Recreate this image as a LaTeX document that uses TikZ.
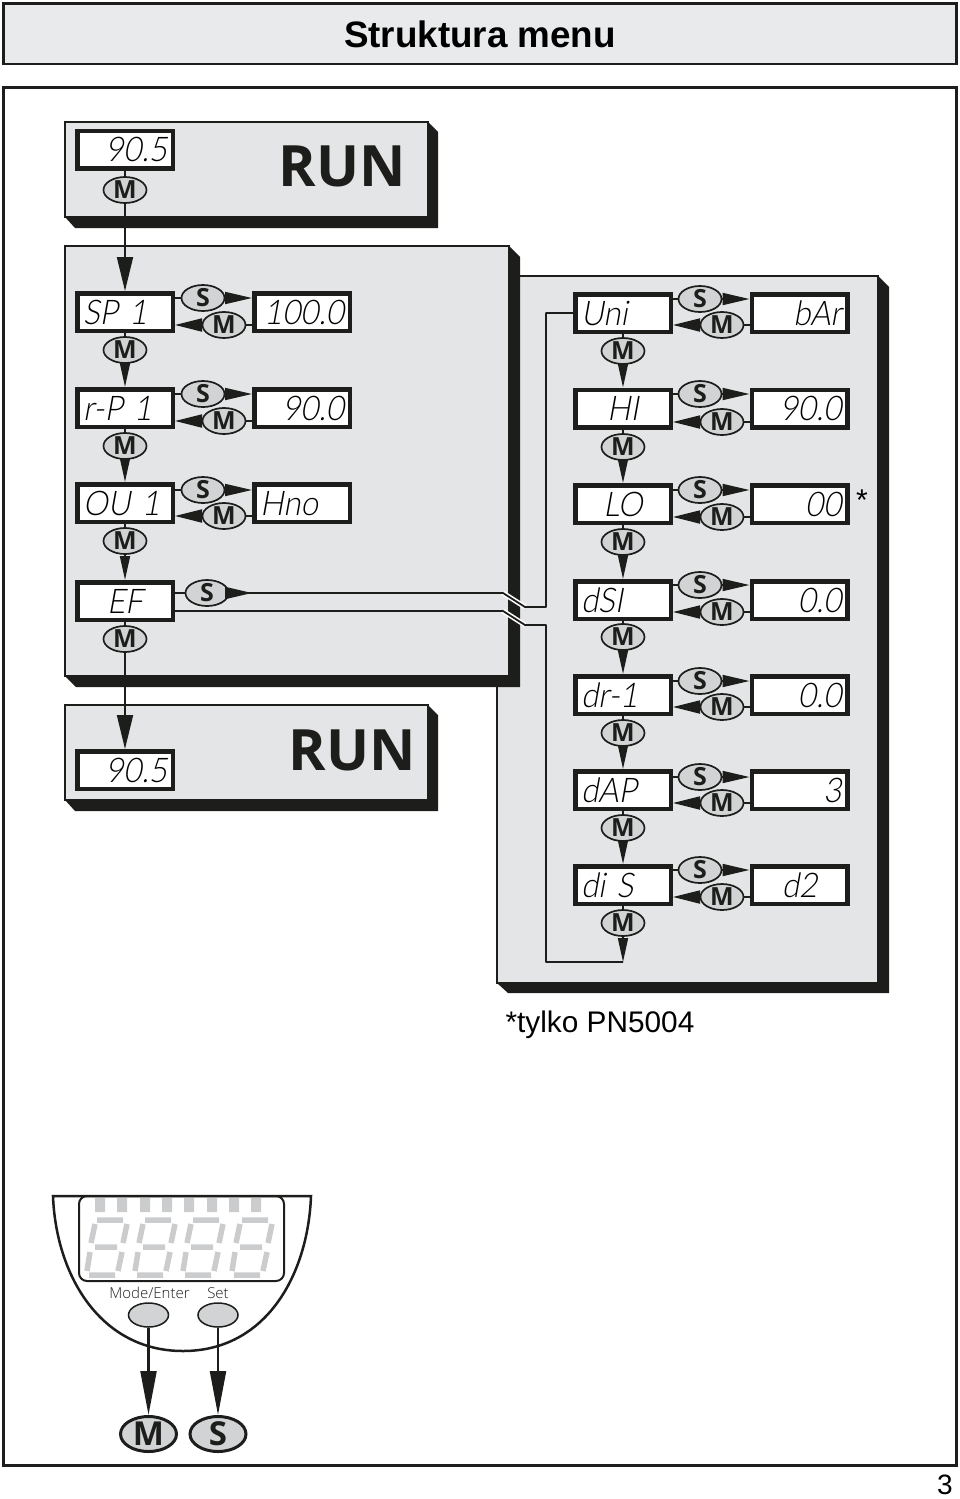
\documentclass[tikz,border=0pt]{standalone}
\usepackage{fontspec}
\usetikzlibrary{arrows.meta,shapes.geometric}
\setmainfont{Liberation Sans}
\newfontfamily\btnfont{Open Sans}
\newfontfamily\keyfont{Open Sans Light}
\newfontfamily\lcdfont[FakeSlant=0.18,FakeStretch=0.92]{Lato Light}
\definecolor{panelgray}{HTML}{E3E5E6}
\definecolor{btngray}{HTML}{D2D3D5}
\definecolor{seggray}{HTML}{CBCCCE}
\definecolor{inkblack}{HTML}{1D1D1B}
\tikzset{
  panel/.style={draw=inkblack,fill=panelgray,line width=1.5pt},
  shade/.style={fill=inkblack,draw=none},
  lcdbox/.style={draw=inkblack,fill=white,line width=4.5pt,outer sep=2.25pt,minimum width=95.5pt,minimum height=37.5pt,inner sep=0pt,
    text width=84pt,text height=24pt,text depth=0pt,font=\lcdfont\fontsize{34}{34}\selectfont,text=black},
  lcdl/.style={lcdbox,align=left},
  lcdr/.style={lcdbox,align=right},
  lcdc/.style={lcdbox,align=center},
  btn/.style={ellipse,draw=inkblack,fill=btngray,line width=1.7pt,minimum width=43pt,minimum height=26pt,inner sep=0pt,
    font=\btnfont\bfseries\fontsize{25}{25}\selectfont,text=inkblack},
  bigbtn/.style={btn,line width=3pt,minimum width=56pt,minimum height=35pt,font=\btnfont\bfseries\fontsize{33}{33}\selectfont},
  wire/.style={draw=inkblack,line width=1.8pt},
  downtip/.style={wire,-{Triangle[length=24pt,width=10pt]}},
  fartip/.style={wire,line width=2pt,-{Triangle[length=34pt,width=16pt]}},
  stip/.style={wire,-{Triangle[length=27pt,width=12pt]}},
  mtip/.style={wire,-{Triangle[length=27pt,width=13pt]}},
  seg/.style={draw=seggray,line width=5.5pt},
}
\begin{document}
\begin{tikzpicture}[x=1pt,y=-1pt]
\useasboundingbox (0,0) rectangle (960,1499);
% title and frame
\draw[draw=inkblack,line width=2.5pt,fill=panelgray!80!white] (3.5,3.5) rectangle (956.5,64);
\node (title) at (480,34) {\bfseries\fontsize{36.8}{37}\selectfont Struktura menu};
\draw[draw=inkblack,line width=3pt] (3.5,87.5) rectangle (956.5,1465);
\node[inner sep=1pt] (pagenum) at (945,1485) {\fontsize{28}{28}\selectfont 3};
% right panel
\fill[shade] (878,276)--(889,287)--(889,993)--(508,993)--(497,983)--cycle;
\draw[panel] (497,276) rectangle (878,983);
% top run panel
\fill[shade] (428,122)--(438,132)--(438,228)--(75,228)--(65,217)--cycle;
\draw[panel] (65,122) rectangle (428,217);
\node[font=\btnfont\bfseries\fontsize{57}{57}\selectfont,text=inkblack] (runa) at (342,166) {RUN};
% left panel
\fill[shade] (509,246)--(520,257)--(520,687)--(76,687)--(65,676)--cycle;
\draw[panel] (65,246) rectangle (509,676);
% bottom run panel
\fill[shade] (428,705)--(438,715)--(438,811)--(75,811)--(65,800)--cycle;
\draw[panel] (65,705) rectangle (428,800);
\node[font=\btnfont\bfseries\fontsize{57}{57}\selectfont,text=inkblack] (runb) at (352,750) {RUN};
% left column
\node[lcdr] (top) at (125,149.5) {90.5};
\node[btn] (topm) at (125,190) {M};
\node[lcdl] (sp) at (125,312) {SP 1};
\node[lcdr] (spv) at (302,312) {100.0};
\node[btn] (sps) at (203,298) {S};
\node[btn] (spm) at (224,325) {M};
\node[btn] (spd) at (125,350) {M};
\node[lcdl] (rp) at (125,408) {r-P 1};
\node[lcdr] (rpv) at (302,408) {90.0};
\node[btn] (rps) at (203,394) {S};
\node[btn] (rpm) at (224,421) {M};
\node[btn] (rpd) at (125,446) {M};
\node[lcdl] (ou) at (125,503) {OU 1};
\node[lcdl] (ouv) at (302,503) {Hno};
\node[btn] (ous) at (203,490) {S};
\node[btn] (oum) at (224,516) {M};
\node[btn] (oud) at (125,541) {M};
\node[lcdc] (ef) at (125,601) {EF};
\node[btn] (efs) at (207,593) {S};
\node[btn] (efd) at (125,639) {M};
\node[lcdr] (bot) at (125,770) {90.5};
% right column
\node[lcdl] (un) at (623,313) {Uni};
\node[lcdr] (unv) at (799.5,313) {bAr};
\node[btn] (uns) at (700,299) {S};
\node[btn] (unm) at (722,325) {M};
\node[btn] (und) at (623,351) {M};
\node[lcdc] (hi) at (623,408.5) {HI};
\node[lcdr] (hiv) at (799.5,408.5) {90.0};
\node[btn] (his) at (700,394) {S};
\node[btn] (him) at (722,422) {M};
\node[btn] (hid) at (623,447) {M};
\node[lcdc] (lo) at (623,504) {LO};
\node[lcdr] (lov) at (799.5,504) {00};
\node[btn] (los) at (700,490) {S};
\node[btn] (lom) at (722,517) {M};
\node[btn] (lod) at (623,542) {M};
\node[lcdl] (ds) at (623,600) {dSI};
\node[lcdr] (dsv) at (799.5,600) {0.0};
\node[btn] (dss) at (700,585) {S};
\node[btn] (dsm) at (722,612) {M};
\node[btn] (dsd) at (623,637) {M};
\node[lcdl] (dr) at (623,695) {dr-1};
\node[lcdr] (drv) at (799.5,695) {0.0};
\node[btn] (drs) at (700,681) {S};
\node[btn] (drm) at (722,707) {M};
\node[btn] (drd) at (623,733) {M};
\node[lcdl] (da) at (623,790) {dAP};
\node[lcdr] (dav) at (799.5,790) {3};
\node[btn] (das) at (700,777) {S};
\node[btn] (dam) at (722,803) {M};
\node[btn] (dad) at (623,828) {M};
\node[lcdl] (di) at (623,885) {di S};
\node[lcdc] (div) at (799.5,885) {d2};
\node[btn] (dis) at (700,870) {S};
\node[btn] (dim) at (722,897) {M};
\node[btn] (did) at (623,923) {M};
\node (star) at (862,500) {\fontsize{30}{30}\selectfont *};
\node (note) at (600,1025) {\fontsize{29.8}{30}\selectfont *tylko PN5004};
% vertical links
\draw[wire] (top)--(topm);
\draw[fartip] (topm)--(sp);
\draw[wire] (sp)--(spd);
\draw[downtip] (spd)--(rp);
\draw[wire] (rp)--(rpd);
\draw[downtip] (rpd)--(ou);
\draw[wire] (ou)--(oud);
\draw[downtip] (oud)--(ef);
\draw[wire] (ef)--(efd);
\draw[fartip] (efd)--(bot);
\draw[wire] (un)--(und);
\draw[downtip] (und)--(hi);
\draw[wire] (hi)--(hid);
\draw[downtip] (hid)--(lo);
\draw[wire] (lo)--(lod);
\draw[downtip] (lod)--(ds);
\draw[wire] (ds)--(dsd);
\draw[downtip] (dsd)--(dr);
\draw[wire] (dr)--(drd);
\draw[downtip] (drd)--(da);
\draw[wire] (da)--(dad);
\draw[downtip] (dad)--(di);
\draw[wire] (di)--(did);
% side links
\draw[wire] (sps -| sp.east)--(sps);
\draw[stip] (sps)--(sps -| spv.west);
\draw[wire] (spm -| spv.west)--(spm);
\draw[mtip] (spm)--(spm -| sp.east);
\draw[wire] (rps -| rp.east)--(rps);
\draw[stip] (rps)--(rps -| rpv.west);
\draw[wire] (rpm -| rpv.west)--(rpm);
\draw[mtip] (rpm)--(rpm -| rp.east);
\draw[wire] (ous -| ou.east)--(ous);
\draw[stip] (ous)--(ous -| ouv.west);
\draw[wire] (oum -| ouv.west)--(oum);
\draw[mtip] (oum)--(oum -| ou.east);
\draw[wire] (uns -| un.east)--(uns);
\draw[stip] (uns)--(uns -| unv.west);
\draw[wire] (unm -| unv.west)--(unm);
\draw[mtip] (unm)--(unm -| un.east);
\draw[wire] (his -| hi.east)--(his);
\draw[stip] (his)--(his -| hiv.west);
\draw[wire] (him -| hiv.west)--(him);
\draw[mtip] (him)--(him -| hi.east);
\draw[wire] (los -| lo.east)--(los);
\draw[stip] (los)--(los -| lov.west);
\draw[wire] (lom -| lov.west)--(lom);
\draw[mtip] (lom)--(lom -| lo.east);
\draw[wire] (dss -| ds.east)--(dss);
\draw[stip] (dss)--(dss -| dsv.west);
\draw[wire] (dsm -| dsv.west)--(dsm);
\draw[mtip] (dsm)--(dsm -| ds.east);
\draw[wire] (drs -| dr.east)--(drs);
\draw[stip] (drs)--(drs -| drv.west);
\draw[wire] (drm -| drv.west)--(drm);
\draw[mtip] (drm)--(drm -| dr.east);
\draw[wire] (das -| da.east)--(das);
\draw[stip] (das)--(das -| dav.west);
\draw[wire] (dam -| dav.west)--(dam);
\draw[mtip] (dam)--(dam -| da.east);
\draw[wire] (dis -| di.east)--(dis);
\draw[stip] (dis)--(dis -| div.west);
\draw[wire] (dim -| div.west)--(dim);
\draw[mtip] (dim)--(dim -| di.east);
% links between the panels
\coordinate (efa) at (252,593);
\coordinate (efb) at (503,593);
\coordinate (efc) at (525,607);
\coordinate (efe) at (546,607);
\coordinate (eff) at (546,313);
\coordinate (ega) at (175,611);
\coordinate (egb) at (503,611);
\coordinate (egc) at (525,625);
\coordinate (ege) at (546,625);
\coordinate (egf) at (546,962);
\coordinate (egg) at (623,962);
\draw[white,line width=5pt] (efb)--(efc);
\draw[white,line width=5pt] (egb)--(egc);
\draw[wire] (efs -| ef.east)--(efs);
\draw[wire,line join=round] (efs)--(efb)--(efc)--(efe)--(eff)--(un.west |- eff);
\draw[stip] (efs)--(efa);
\draw[wire,line join=round] (ega)--(egb)--(egc)--(ege)--(egf)--(egg);
\draw[downtip] (did)--(egg);
% device
\draw[draw=inkblack,line width=2.5pt,line join=miter] (53,1196) .. controls (56,1275) and (100,1351) .. (183,1351) .. controls (266,1351) and (308,1275) .. (311,1196) -- cycle;
\draw[draw=inkblack,line width=2pt,rounded corners=8pt] (79,1196) rectangle (284,1281);
\fill[seggray] (95,1198) rectangle +(10,14) (117,1198) rectangle +(10,14) (140,1198) rectangle +(10,14) (162,1198) rectangle +(10,14) (184,1198) rectangle +(10,14) (207,1198) rectangle +(10,14) (229,1198) rectangle +(10,14) (251,1198) rectangle +(10,14);
\draw[seg] (97,1220)--(123,1220) (89,1275)--(115,1275) (95,1247)--(117,1247) (95,1224)--(91,1243) (90,1252)--(87,1271) (127,1224)--(123,1243) (122,1252)--(118,1271);
\draw[seg] (145,1220)--(171,1220) (137,1275)--(163,1275) (143,1247)--(165,1247) (143,1224)--(139,1243) (138,1252)--(135,1271) (175,1224)--(171,1243) (170,1252)--(166,1271);
\draw[seg] (193,1220)--(219,1220) (185,1275)--(211,1275) (191,1247)--(213,1247) (191,1224)--(187,1243) (186,1252)--(183,1271) (223,1224)--(219,1243) (218,1252)--(214,1271);
\draw[seg] (242,1220)--(268,1220) (234,1275)--(260,1275) (240,1247)--(262,1247) (240,1224)--(236,1243) (235,1252)--(232,1271) (272,1224)--(268,1243) (267,1252)--(263,1271);
\node[font=\keyfont\fontsize{15}{16}\selectfont,text=inkblack] (modelabel) at (149.5,1293) {Mode/Enter};
\node[font=\keyfont\fontsize{15}{16}\selectfont,text=inkblack] (setlabel) at (218,1293) {Set};
\node[ellipse,draw=inkblack,fill=btngray,line width=1.5pt,minimum width=40pt,minimum height=24pt] (modekey) at (148.5,1315) {};
\node[ellipse,draw=inkblack,fill=btngray,line width=1.5pt,minimum width=40pt,minimum height=24pt] (setkey) at (218,1315) {};
\node[bigbtn] (bigm) at (148.5,1434) {M};
\node[bigbtn] (bigs) at (218,1434) {S};
\draw[wire,line width=2.2pt,-{Triangle[length=44pt,width=16pt]}] (modekey)--(bigm);
\draw[wire,line width=2.2pt,-{Triangle[length=44pt,width=16pt]}] (setkey)--(bigs);
\end{tikzpicture}
\end{document}
